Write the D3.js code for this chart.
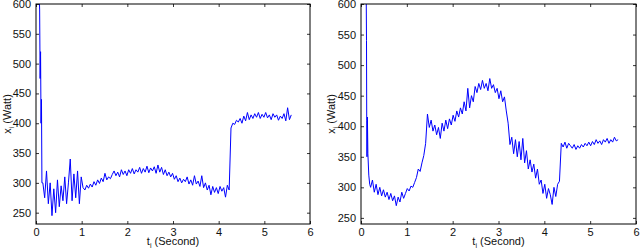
<!DOCTYPE html>
<html><head><meta charset="utf-8">
<script src="https://cdn.jsdelivr.net/npm/d3@7"></script>
<style>
html,body{margin:0;padding:0;background:#fff;}
svg{display:block;font-family:"Liberation Sans",Arial,sans-serif;}
</style></head>
<body>
<script>
// ---- data ----
const xTicks = [0,1,2,3,4,5,6];
const yTicks = [250,300,350,400,450,500,550,600];
const step = 0.04;

// Left panel: initial transient (explicit times) + regular samples
const leftHeadT = [0.06,0.08,0.09,0.10,0.11,0.12,0.13];
const leftHeadV = [650,590,475,520,400,440,300];
const leftStart = 0.15;
const leftValues = [
  300,275,320,265,300,245,290,250,305,260,
  295,270,310,265,300,340,270,315,275,320,
  265,310,292,288,296,291,298,293,302,296,
  305,299,308,302,316,305,310,307,314,320,
  312,318,310,322,314,320,312,322,316,324,
  315,322,318,326,316,324,318,328,317,325,
  320,327,316,330,318,326,314,322,312,318,
  310,316,306,312,302,308,300,306,302,310,
  298,305,296,312,298,303,294,312,292,300,
  288,296,280,294,284,292,282,294,286,292,
  276,296,288,392,400,398,405,402,408,400,
  412,404,418,406,414,408,416,410,418,408,
  415,410,418,409,414,406,416,410,414,405,
  412,408,416,404,426,406,414
];

// Right panel
const rightHeadT = [0.10,0.115,0.12,0.125,0.13,0.14,0.15,0.17,0.19];
const rightHeadV = [650,600,540,410,350,415,355,320,305];
const rightStart = 0.21;
const rightValues = [
  300,312,292,305,288,300,286,296,284,292,
  280,290,278,286,270,284,276,292,282,290,
  298,294,302,300,308,316,330,326,340,352,
  372,420,398,410,392,402,386,398,380,405,
  392,410,396,412,402,418,408,425,415,430,
  420,440,425,462,430,450,440,465,455,470,
  460,475,462,470,458,478,462,468,455,462,
  445,458,440,448,425,405,370,382,355,378,
  350,375,345,380,340,360,330,345,325,338,
  315,330,305,312,290,305,282,298,288,272,
  300,285,305,310,372,366,374,364,372,368,
  364,370,362,368,364,370,366,372,368,374,
  368,375,370,378,372,376,370,378,374,380,
  372,378,374,382,376,378
];

function build(headT, headV, start, vals){
  const pts = headT.map((t,i)=>[t, headV[i]]);
  vals.forEach((v,i)=>pts.push([start + i*step, v]));
  return pts;
}

const W = 640, H = 249;
const svg = d3.select("body").append("svg").attr("width",W).attr("height",H);

const panels = [
  {x0:36, x1:310, y0:4, y1:224, yMin:231, data:build(leftHeadT,leftHeadV,leftStart,leftValues), id:"L", lx:7},
  {x0:361, x1:636, y0:4, y1:224, yMin:240, data:build(rightHeadT,rightHeadV,rightStart,rightValues), id:"R", lx:331}
];

panels.forEach(p=>{
  const x = d3.scaleLinear().domain([0,6]).range([p.x0,p.x1]);
  const y = d3.scaleLinear().domain([p.yMin,600]).range([p.y1,p.y0]);
  const g = svg.append("g");

  g.append("clipPath").attr("id","clip"+p.id).append("rect")
    .attr("x",p.x0).attr("y",p.y0).attr("width",p.x1-p.x0).attr("height",p.y1-p.y0);

  g.append("path").datum(p.data)
    .attr("clip-path","url(#clip"+p.id+")")
    .attr("fill","none").attr("stroke","#0000ff").attr("stroke-width",1)
    .attr("d", d3.line().x(d=>x(d[0])).y(d=>y(d[1])));

  const ax = d3.axisBottom(x).tickValues(xTicks).tickSize(-3).tickPadding(4).tickFormat(d3.format("d"));
  const axT = d3.axisTop(x).tickValues(xTicks).tickSize(-3).tickFormat("");
  const ay = d3.axisLeft(y).tickValues(yTicks).tickSize(-3).tickPadding(5).tickFormat(d3.format("d"));
  const ayR = d3.axisRight(y).tickValues(yTicks).tickSize(-3).tickFormat("");

  const styleAxis = sel=>{
    sel.select(".domain").remove();
    sel.selectAll("line").attr("stroke","#000").attr("stroke-width",0.8);
    sel.selectAll("text").attr("fill","#111").style("font-size","11px").style("font-family","'Liberation Sans',Arial,sans-serif");
  };
  g.append("g").attr("transform",`translate(0,${p.y1})`).call(ax).call(styleAxis);
  g.append("g").attr("transform",`translate(0,${p.y0})`).call(axT).call(styleAxis);
  g.append("g").attr("transform",`translate(${p.x0},0)`).call(ay).call(styleAxis);
  g.append("g").attr("transform",`translate(${p.x1},0)`).call(ayR).call(styleAxis);

  g.append("rect").attr("x",p.x0).attr("y",p.y0).attr("width",p.x1-p.x0).attr("height",p.y1-p.y0)
    .attr("fill","none").attr("stroke","#000").attr("stroke-width",1);

  // x label
  const cx = (p.x0+p.x1)/2;
  const xl = g.append("text").attr("x",cx).attr("y",245).attr("text-anchor","middle")
    .style("font-size","11px").attr("fill","#111");
  xl.append("tspan").text("t");
  xl.append("tspan").attr("dy",3).style("font-size","7px").text("i");
  xl.append("tspan").attr("dy",-3).text(" (Second)");

  // y label
  const cy = (p.y0+p.y1)/2;
  const yl = g.append("text").attr("transform",`translate(${p.lx + 4},${cy}) rotate(-90)`).attr("text-anchor","middle")
    .style("font-size","11px").attr("fill","#111");
  yl.append("tspan").text("x");
  yl.append("tspan").attr("dy",3).style("font-size","7px").text("i");
  yl.append("tspan").attr("dy",-3).text(" (Watt)");
});
</script>
</body></html>
